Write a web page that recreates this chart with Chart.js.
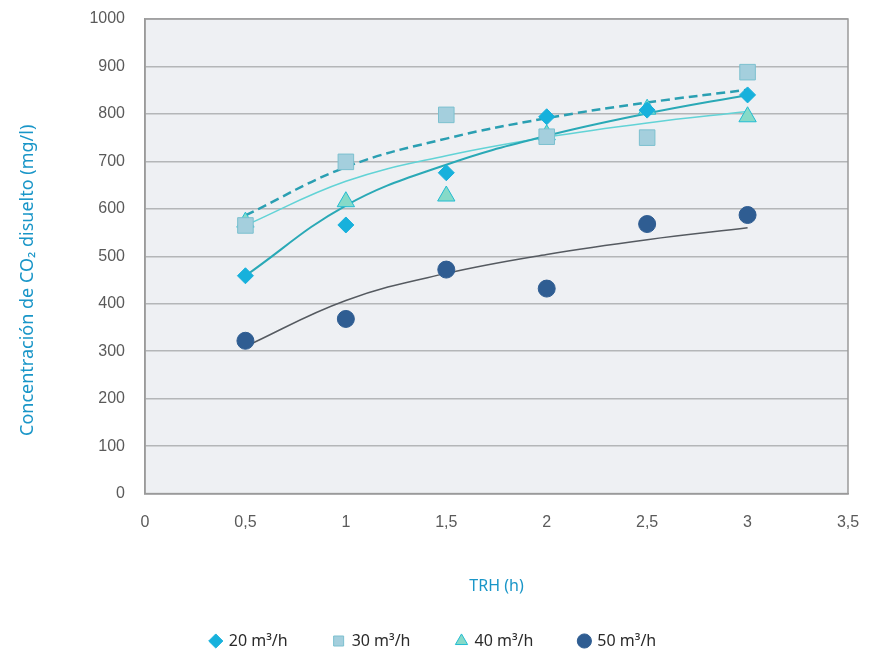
<!DOCTYPE html>
<html>
<head>
<meta charset="utf-8">
<script src="https://cdn.jsdelivr.net/npm/chart.js@4.4.1/dist/chart.umd.min.js"></script>
<style>
  html, body { margin: 0; padding: 0; background: #fff; }
  #wrap { width: 879px; height: 652px; }
</style>
</head>
<body>
<div id="wrap"><canvas id="graphic"></canvas></div>
<script>
// TRH values (h)
const trh = [0.5, 1, 1.5, 2, 2.5, 3]

// measured dissolved CO2 (mg/l) for each flow
const co2Flow20 = [459, 566, 676, 794, 808, 840]
const co2Flow30 = [565, 699, 798, 752, 750, 888]
const co2Flow40 = [572, 615, 627, 756, 810, 794]
const co2Flow50 = [322, 368, 472, 432, 568, 587]

// trend lines read at the same TRH values
const trendFlow20 = [459, 607, 693, 754, 801, 840]
const trendFlow30 = [586, 688, 748, 791, 824, 851]
const trendFlow40 = [565, 658, 712, 751, 781, 805]
const trendFlow50 = [310, 407, 464, 504, 535, 560]

const flowLabels = ['20 m³/h', '30 m³/h', '40 m³/h', '50 m³/h']
const xTicks = [0, 0.5, 1, 1.5, 2, 2.5, 3, 3.5]
const yTicks = [0, 100, 200, 300, 400, 500, 600, 700, 800, 900, 1000]
const yTitle = 'Concentración de CO₂ disuelto (mg/l)'

const toPoints = (values) => trh.map((x, i) => ({ x, y: values[i] }))

const pointSet = (label, values, style, radius, fill, border) => ({
  label,
  data: toPoints(values),
  showLine: false,
  pointStyle: style,
  pointRadius: radius,
  pointHoverRadius: radius,
  pointBackgroundColor: fill,
  pointBorderColor: border,
  pointBorderWidth: 1,
  backgroundColor: fill,
  borderColor: fill,
  order: 0
})

const trendSet = (values, color, width, dash) => ({
  label: 'trend',
  data: toPoints(values),
  showLine: true,
  tension: 0.4,
  pointRadius: 0,
  borderColor: color,
  borderWidth: width,
  borderDash: dash,
  fill: false,
  order: 1
})

// light grey plot background, frame, and the rotated y title
const plotFrame = {
  id: 'plotFrame',
  beforeDraw(chart) {
    const { ctx, chartArea: a } = chart
    ctx.save()
    ctx.fillStyle = '#eef0f3'
    ctx.fillRect(a.left, a.top, a.right - a.left, a.bottom - a.top)
    ctx.restore()
  },
  afterDatasetsDraw(chart) {
    const { ctx, chartArea: a } = chart
    ctx.save()
    ctx.strokeStyle = '#9a9a9a'
    ctx.lineWidth = 1.5
    ctx.strokeRect(a.left, a.top, a.right - a.left, a.bottom - a.top)
    ctx.restore()
  },
  afterDraw(chart) {
    const { ctx, chartArea: a } = chart
    ctx.save()
    ctx.translate(28, (a.top + a.bottom) / 2 + 24)
    ctx.rotate(-Math.PI / 2)
    ctx.fillStyle = '#1a96c8'
    ctx.font = '18px "Noto Sans"'
    ctx.textAlign = 'center'
    ctx.textBaseline = 'middle'
    ctx.fillText(yTitle, 0, 0)
    ctx.restore()
  }
}

const renderGrafico = () => {
  const ctx = document.querySelector('#graphic').getContext('2d')
  new Chart(ctx, {
    type: 'scatter',
    data: {
      datasets: [
        pointSet(flowLabels[0], co2Flow20, 'rectRot', 8, '#17b1dc', '#17b1dc'),
        pointSet(flowLabels[1], co2Flow30, 'rect', 11, '#a4cfdd', '#7cc0cf'),
        pointSet(flowLabels[2], co2Flow40, 'triangle', 10, '#86dac8', '#22bcd2'),
        pointSet(flowLabels[3], co2Flow50, 'circle', 8.5, '#2f5d92', '#2f5d92'),
        trendSet(trendFlow20, '#2aa9b6', 2, []),
        trendSet(trendFlow30, '#2a9fb2', 2.5, [9, 5]),
        trendSet(trendFlow40, '#62d3d6', 1.5, []),
        trendSet(trendFlow50, '#555a60', 1.5, [])
      ]
    },
    options: {
      responsive: true,
      maintainAspectRatio: false,
      animation: false,
      layout: { padding: { left: 19, right: 31, top: 19, bottom: -7 } },
      plugins: {
        tooltip: { enabled: false },
        legend: {
          position: 'bottom',
          labels: {
            filter: (item) => item.datasetIndex < 4,
            usePointStyle: true,
            boxWidth: 10,
            boxHeight: 10,
            padding: 46,
            color: '#2a2a2a',
            font: { family: 'Noto Sans', size: 16 }
          }
        }
      },
      scales: {
        x: {
          type: 'linear',
          min: 0,
          max: 3.5,
          afterBuildTicks: (scale) => { scale.ticks = xTicks.map(v => ({ value: v })) },
          ticks: {
            callback: (v) => String(v).replace('.', ','),
            color: '#5a5a5a',
            padding: 19,
            font: { family: 'Liberation Sans', size: 16 }
          },
          grid: { display: false, drawTicks: false },
          border: { display: true, color: '#9a9a9a', width: 1.5 },
          title: {
            display: true,
            text: 'TRH (h)',
            color: '#1a96c8',
            padding: { top: 26, bottom: -9 },
            font: { family: 'Noto Sans', size: 16 }
          }
        },
        y: {
          min: 0,
          max: 1000,
          afterBuildTicks: (scale) => { scale.ticks = yTicks.map(v => ({ value: v })) },
          afterFit: (scale) => {
            scale.paddingTop = 0
            scale.width = 126
          },
          ticks: {
            callback: (v) => String(v),
            color: '#5a5a5a',
            padding: 20,
            font: { family: 'Liberation Sans', size: 16 }
          },
          grid: { color: '#b4b6b8', lineWidth: 1.5, drawTicks: false },
          border: { display: true, color: '#9a9a9a', width: 1.5 }
        }
      }
    },
    plugins: [plotFrame]
  })
}

renderGrafico()
</script>
</body>
</html>
